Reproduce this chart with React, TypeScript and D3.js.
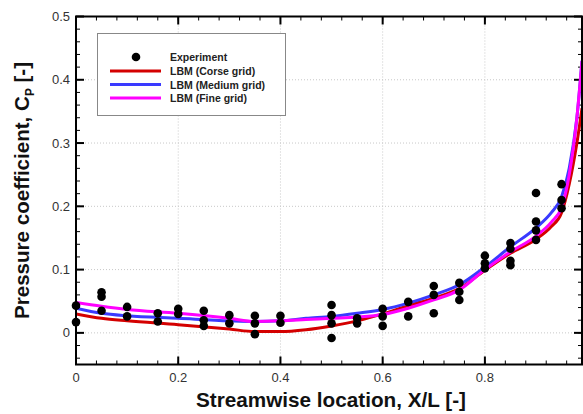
import React from "react";
import * as d3 from "d3";

const expX = [0, 0, 0.05, 0.05, 0.05, 0.1, 0.1, 0.16, 0.16, 0.2, 0.2, 0.25, 0.25, 0.25, 0.3, 0.3, 0.35, 0.35, 0.35, 0.4, 0.4, 0.5, 0.5, 0.5, 0.5, 0.55, 0.55, 0.6, 0.6, 0.6, 0.65, 0.65, 0.7, 0.7, 0.7, 0.75, 0.75, 0.75, 0.8, 0.8, 0.8, 0.85, 0.85, 0.85, 0.85, 0.9, 0.9, 0.9, 0.9, 0.95, 0.95, 0.95];
const expY = [0.043, 0.017, 0.064, 0.057, 0.035, 0.041, 0.026, 0.031, 0.018, 0.038, 0.03, 0.035, 0.02, 0.011, 0.028, 0.015, 0.027, 0.015, -0.002, 0.027, 0.016, 0.044, 0.028, 0.015, -0.008, 0.023, 0.015, 0.038, 0.026, 0.011, 0.049, 0.026, 0.074, 0.06, 0.031, 0.079, 0.065, 0.052, 0.122, 0.11, 0.102, 0.142, 0.133, 0.114, 0.107, 0.221, 0.176, 0.162, 0.147, 0.235, 0.21, 0.197];

const lineX = [0, 0.05, 0.1, 0.2, 0.3, 0.35, 0.4, 0.45, 0.5, 0.55, 0.6, 0.65, 0.7, 0.75, 0.8, 0.85, 0.9, 0.93, 0.95, 0.965, 0.98, 0.99];
const coarseY = [0.03, 0.023, 0.019, 0.013, 0.006, 0.002, 0.002, 0.005, 0.011, 0.019, 0.03, 0.043, 0.055, 0.07, 0.099, 0.126, 0.148, 0.168, 0.19, 0.235, 0.3, 0.355];
const mediumY = [0.039, 0.031, 0.027, 0.023, 0.019, 0.018, 0.019, 0.023, 0.026, 0.031, 0.037, 0.047, 0.06, 0.076, 0.104, 0.136, 0.166, 0.19, 0.215, 0.26, 0.34, 0.43];
const fineY = [0.048, 0.042, 0.037, 0.031, 0.023, 0.018, 0.019, 0.021, 0.023, 0.025, 0.029, 0.039, 0.052, 0.068, 0.1, 0.128, 0.153, 0.175, 0.198, 0.25, 0.34, 0.43];

const seriesNames = ["LBM (Corse grid)", "LBM (Medium grid)", "LBM (Fine grid)"];
const seriesColors = ["#d40000", "#3a3aff", "#ff00ff"];

const xTicks = [0, 0.2, 0.4, 0.6, 0.8];
const yTicks = [0, 0.1, 0.2, 0.3, 0.4, 0.5];

export default function App() {
  const W = 583, H = 414;
  const left = 76, right = 582, top = 16.5, bottom = 364.5;
  const x = d3.scaleLinear().domain([0, 0.99]).range([left, right]);
  const y = d3.scaleLinear().domain([-0.05, 0.5]).range([bottom, top]);
  const line = d3.line<number>().x((_, i) => x(lineX[i])).y(d => y(d)).curve(d3.curveMonotoneX);
  const series = [coarseY, mediumY, fineY];
  const xMinor = d3.range(0, 0.99, 0.04).map(v => +v.toFixed(2));
  const yMinor = d3.range(-0.04, 0.5, 0.02).map(v => +v.toFixed(2));
  const font = "Arial, 'Liberation Sans', sans-serif";
  return (
    <svg width={W} height={H} style={{ position: "absolute", left: 0, top: 0, background: "#fff" }} fontFamily={font}>
      <defs>
        <clipPath id="plot"><rect x={left} y={top} width={right - left} height={bottom - top} /></clipPath>
      </defs>
      {xTicks.slice(1).map(t => (
        <line key={"gx" + t} x1={x(t)} x2={x(t)} y1={top} y2={bottom} stroke="#c8c8c8" strokeWidth={1} strokeDasharray="1,2" />
      ))}
      {yTicks.map(t => (
        <line key={"gy" + t} x1={left} x2={right} y1={y(t)} y2={y(t)} stroke="#c8c8c8" strokeWidth={1} strokeDasharray="1,2" />
      ))}
      {xMinor.map(t => (
        <g key={"mx" + t}>
          <line x1={x(t)} x2={x(t)} y1={bottom} y2={bottom - 4} stroke="#000" strokeWidth={1} />
          <line x1={x(t)} x2={x(t)} y1={top} y2={top + 4} stroke="#000" strokeWidth={1} />
        </g>
      ))}
      {yMinor.map(t => (
        <g key={"my" + t}>
          <line x1={left} x2={left + 4} y1={y(t)} y2={y(t)} stroke="#000" strokeWidth={1} />
          <line x1={right} x2={right - 4} y1={y(t)} y2={y(t)} stroke="#000" strokeWidth={1} />
        </g>
      ))}
      {xTicks.map(t => (
        <g key={"tx" + t}>
          <line x1={x(t)} x2={x(t)} y1={bottom} y2={bottom - 8} stroke="#000" strokeWidth={2} />
          <line x1={x(t)} x2={x(t)} y1={top} y2={top + 8} stroke="#000" strokeWidth={2} />
          <text x={x(t)} y={bottom + 17} textAnchor="middle" fontSize={13} fill="#333">{t === 0 ? "0" : t.toString()}</text>
        </g>
      ))}
      {yTicks.map(t => (
        <g key={"ty" + t}>
          <line x1={left} x2={left + 8} y1={y(t)} y2={y(t)} stroke="#000" strokeWidth={2} />
          <line x1={right} x2={right - 8} y1={y(t)} y2={y(t)} stroke="#000" strokeWidth={2} />
          <text x={left - 6} y={y(t) + 4.5} textAnchor="end" fontSize={13} fill="#333">{t === 0 ? "0" : t.toString()}</text>
        </g>
      ))}
      <g clipPath="url(#plot)">
        {series.map((s, i) => (
          <path key={"s" + i} d={line(s) || ""} fill="none" stroke={seriesColors[i]} strokeWidth={3} />
        ))}
      </g>
      {expX.map((v, i) => (
        <circle key={"p" + i} cx={x(v)} cy={y(expY[i])} r={4.3} fill="#000" />
      ))}
      <rect x={left} y={top} width={right - left} height={bottom - top} fill="none" stroke="#000" strokeWidth={2} />
      <rect x={97.5} y={33.5} width={188} height={82} fill="#fff" stroke="#888" strokeWidth={1} />
      <circle cx={136} cy={57} r={4.3} fill="#000" />
      <text x={170} y={61} fontSize={10.5} fontWeight="bold" fill="#222">Experiment</text>
      {seriesNames.map((n, i) => (
        <g key={"l" + i}>
          <line x1={110} x2={161} y1={71 + i * 13.5} y2={71 + i * 13.5} stroke={seriesColors[i]} strokeWidth={3} />
          <text x={170} y={75 + i * 13.5} fontSize={10.5} fontWeight="bold" fill="#222">{n}</text>
        </g>
      ))}
      <text x={196} y={406.5} fontSize={21} fontWeight="bold" fill="#111" textLength={270} lengthAdjust="spacingAndGlyphs">Streamwise location, X/L [-]</text>
      <text transform="translate(29, 319) rotate(-90)" fontSize={21} fontWeight="bold" fill="#111" textLength={257} lengthAdjust="spacingAndGlyphs">
        Pressure coefficient, C<tspan fontSize={12} dy={5}>P</tspan><tspan dy={-5}> [-]</tspan>
      </text>
    </svg>
  );
}
